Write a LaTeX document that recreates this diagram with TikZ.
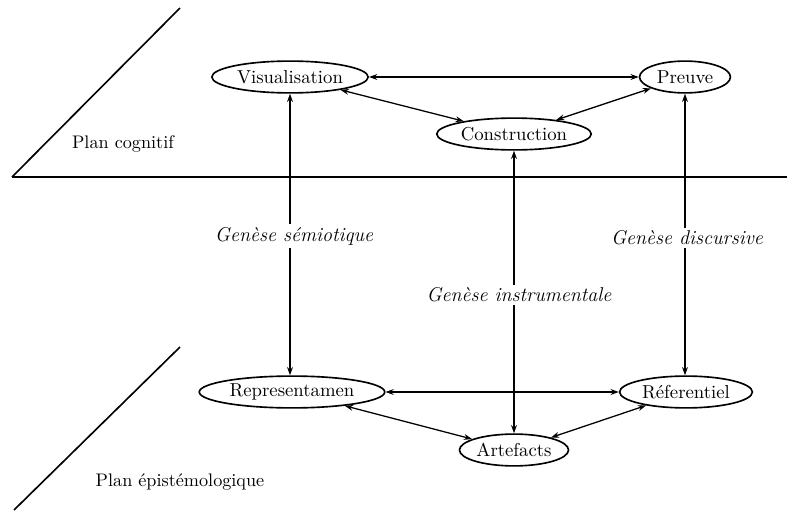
\documentclass[tikz,border=0pt]{standalone}
\usetikzlibrary{shapes.geometric,arrows.meta}
\begin{document}
\begin{tikzpicture}[x=0.55pt,y=-0.55pt,
  ell/.style={draw,ellipse,line width=0.9pt,inner sep=0pt,minimum height=17.5pt,font=\fontsize{10.3}{12}\selectfont},
  conn/.style={line width=0.7pt,{Stealth[length=4.5pt,width=3.2pt]}-{Stealth[length=4.5pt,width=3.2pt]}},
  gen/.style={fill=white,inner sep=1.5pt,font=\itshape\fontsize{11}{13}\selectfont},
  plan/.style={font=\normalsize},
  sep/.style={line width=0.9pt}]
\useasboundingbox (0,0) rectangle (787,512);
% planes
\coordinate (h1) at (12,177);
\coordinate (h2) at (787,177);
\coordinate (d1) at (180,8);
\coordinate (d2) at (180,347);
\coordinate (d3) at (14,510);
\draw[sep] (h1) -- (h2);
\draw[sep] (h1) -- (d1);
\draw[sep] (d2) -- (d3);
\node[plan] (pc) at (123,144) {Plan cognitif};
\node[plan] (pe) at (180,482) {Plan épistémologique};
% nodes
\node[ell,minimum width=86pt] (vis) at (290,77) {Visualisation};
\node[ell,minimum width=50pt] (pre) at (685,77) {Preuve};
\node[ell,minimum width=85pt] (con) at (514,134) {Construction};
\node[ell,minimum width=102pt] (rep) at (292,392) {Representamen};
\node[ell,minimum width=73pt] (ref) at (686,392) {Réferentiel};
\node[ell,minimum width=60pt] (art) at (514,450) {Artefacts};
% connectors
\draw[conn] (vis) -- (pre);
\draw[conn] (vis) -- (con);
\draw[conn] (con) -- (pre);
\draw[conn] (rep) -- (ref);
\draw[conn] (rep) -- (art);
\draw[conn] (art) -- (ref);
\draw[conn] (vis.south) -- (vis.south |- rep.north);
\draw[conn] (con.south) -- (con.south |- art.north);
\draw[conn] (pre.south) -- (pre.south |- ref.north);
% labels
\node[gen] (gs) at (294,236) {Genèse sémiotique};
\node[gen] (gi) at (519,295) {Genèse instrumentale};
\node[gen] (gd) at (687,238) {Genèse discursive};
\end{tikzpicture}
\end{document}
